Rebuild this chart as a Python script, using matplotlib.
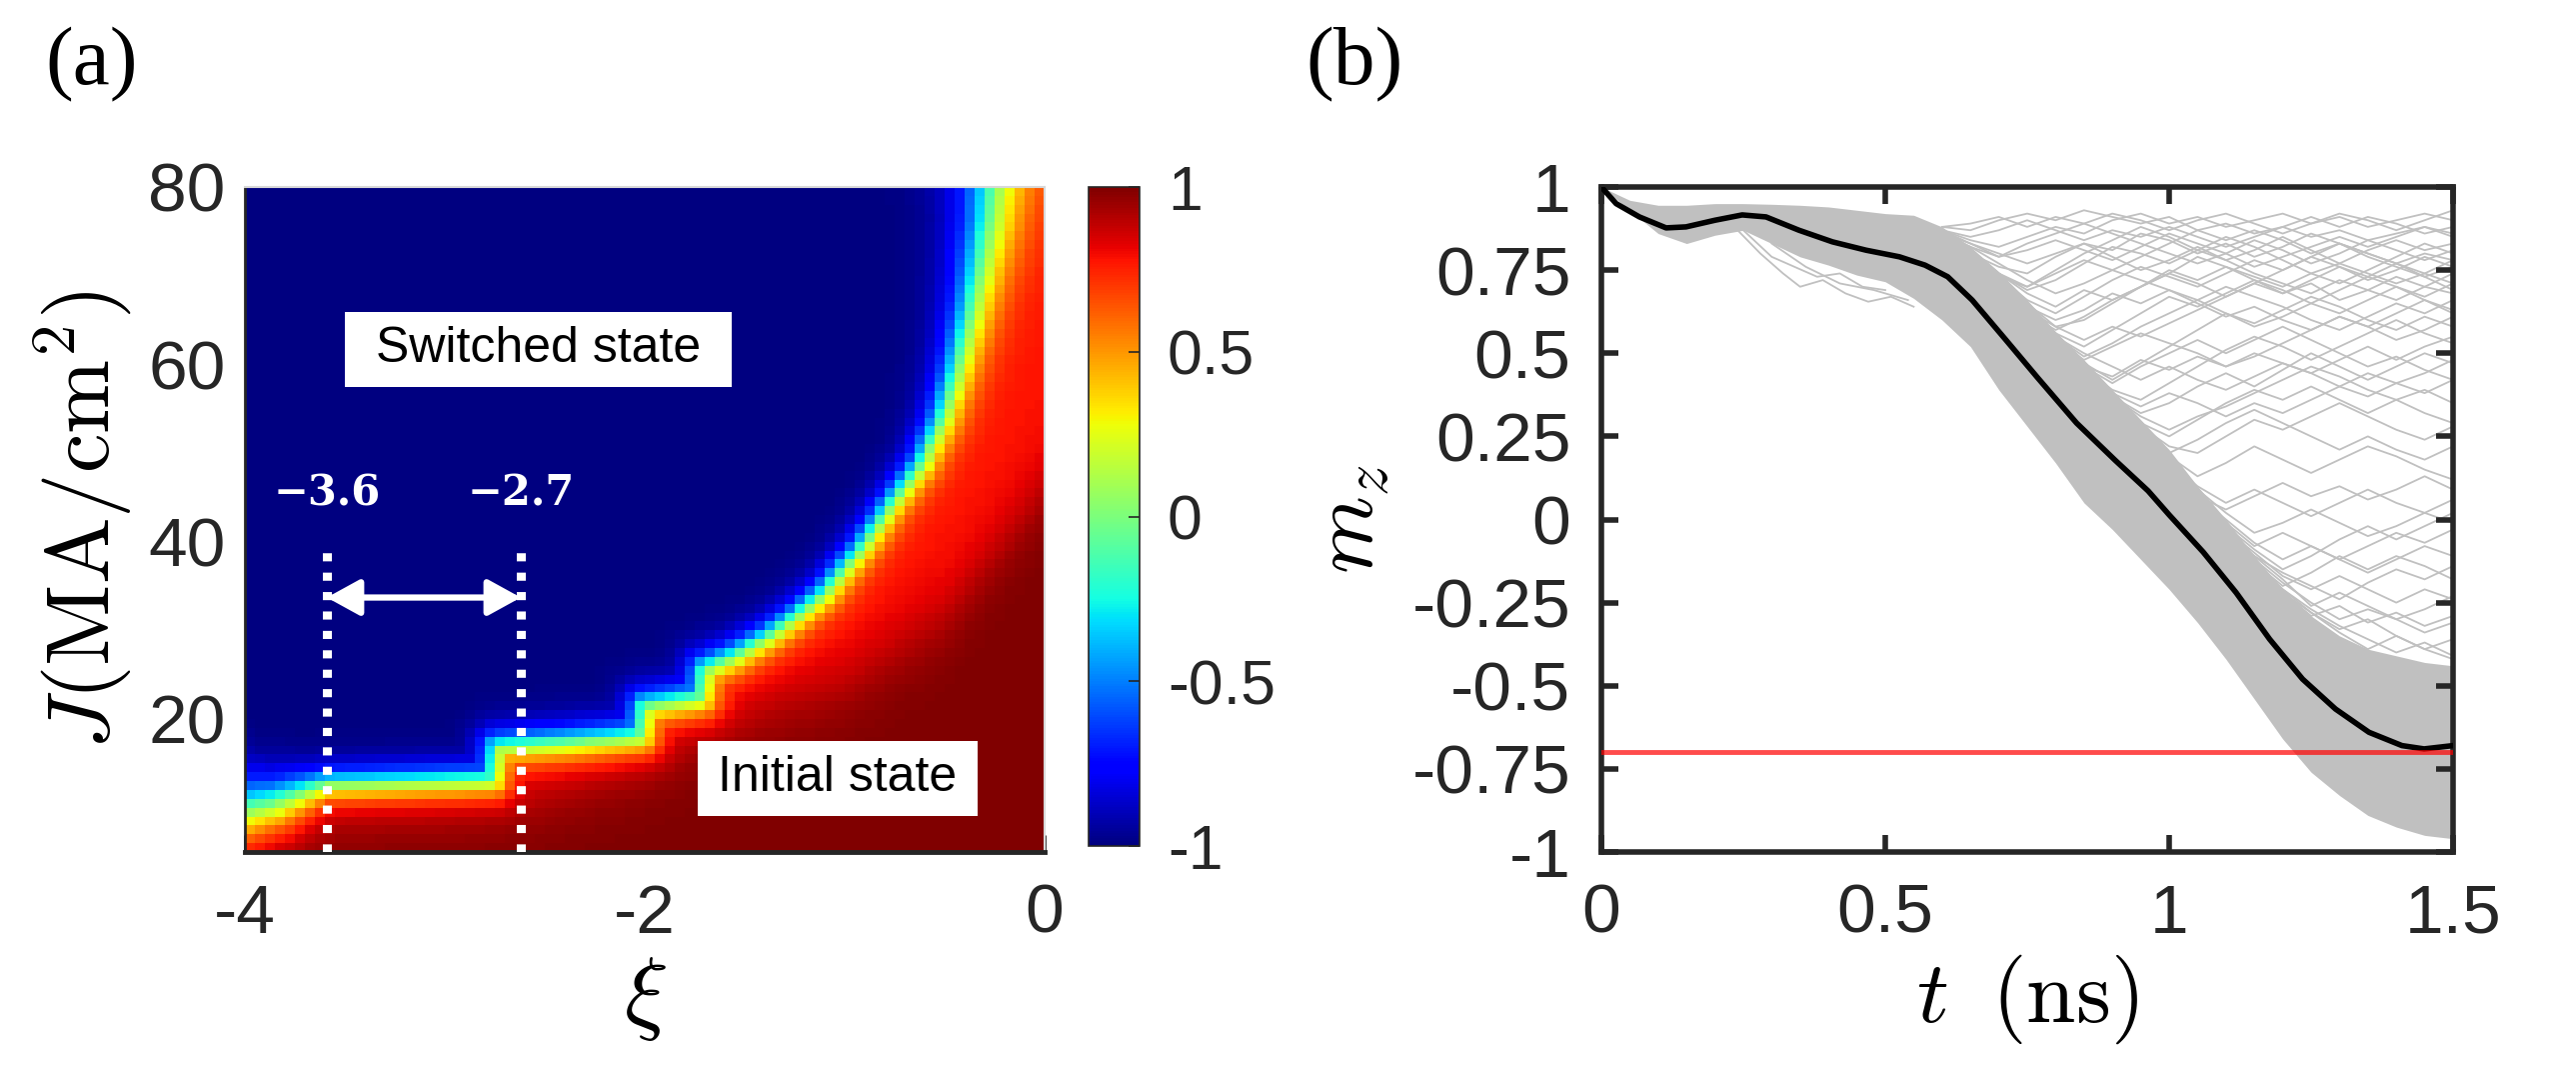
import numpy as np
import matplotlib
matplotlib.use("Agg")
import matplotlib.pyplot as plt
from matplotlib.patches import Rectangle, FancyArrowPatch

plt.rcParams['font.family'] = ['Liberation Sans', 'DejaVu Sans']
plt.rcParams['mathtext.fontset'] = 'cm'
plt.rcParams['axes.unicode_minus'] = False

DARK = '#262626'

# ---------------- panel (a) data: switching map ----------------
xi_edges = np.linspace(-4, 0, 81)
J_edges = np.linspace(5, 80, 76)

# boundary between switched (-1) and initial (+1) state
bnd_xi = [-4.0, -3.85, -3.7, -3.6, -3.2, -2.76, -2.74, -2.4, -2.02, -2.0, -1.72, -1.70,
          -1.55, -1.38, -1.24, -1.10, -0.92, -0.77, -0.61, -0.51, -0.44, -0.36, -0.27,
          -0.25, -0.20, -0.10, 0.0]
bnd_J = [9.8, 10.5, 11.8, 12.6, 12.8, 13.0, 16.8, 17.3, 18.0, 21.4, 22.3, 25.5,
         27.0, 29.2, 31.5, 34.1, 39.0, 43.9, 48.8, 53.7, 58.7, 66.0, 75.9,
         79.8, 90.0, 105.0, 120.0]
# transition half width along the boundary (pixels)
bnd_w = [38, 32, 24, 19, 19, 19, 20, 21, 21, 21, 21, 21,
         20, 19, 19, 19, 19, 19, 20, 22, 24, 28, 36,
         40, 42, 44, 45]
# where red turns into dark red
dark_xi = [-4.0, -3.5, -3.0, -2.5, -2.0, -1.725, -1.0, -0.5, 0.0]
dark_J = [8.5, 10.0, 10.5, 12.0, 16.0, 18.9, 24.0, 31.6, 46.0]

cbar_ticks = [-1, -0.5, 0, 0.5, 1]
cbar_labels = ['-1', '-0.5', '0', '0.5', '1']
xi_mark = [-3.59, -2.62]
xi_mark_labels = ['\u22123.6', '\u22122.7']

# ---------------- panel (b) data: m_z trajectories ----------------
mean_t = [0, 0.026, 0.067, 0.114, 0.149, 0.2, 0.248, 0.29, 0.348, 0.407, 0.466, 0.525,
          0.57, 0.61, 0.653, 0.711, 0.769, 0.837, 0.905, 0.963, 1.0, 1.06, 1.118,
          1.177, 1.235, 1.293, 1.352, 1.41, 1.449, 1.5]
mean_m = [1.0, 0.95, 0.91, 0.877, 0.88, 0.90, 0.916, 0.91, 0.87, 0.835, 0.81, 0.79,
          0.765, 0.73, 0.66, 0.543, 0.425, 0.29, 0.178, 0.086, 0.014, -0.098, -0.22,
          -0.36, -0.48, -0.57, -0.64, -0.68, -0.69, -0.68]

band_t = [0, 0.05, 0.1, 0.15, 0.2, 0.25, 0.3, 0.35, 0.4, 0.45, 0.5, 0.55, 0.6, 0.65, 0.7,
          0.75, 0.8, 0.85, 0.9, 0.95, 1.0, 1.05, 1.1, 1.15, 1.2, 1.25, 1.3, 1.35, 1.4,
          1.45, 1.5]
band_hi = [1.0, 0.96, 0.945, 0.945, 0.95, 0.95, 0.948, 0.945, 0.94, 0.93, 0.92, 0.915,
           0.88, 0.82, 0.745, 0.66, 0.565, 0.48, 0.39, 0.30, 0.21, 0.10, 0.0, -0.11,
           -0.21, -0.29, -0.35, -0.39, -0.41, -0.43, -0.44]
band_lo = [1.0, 0.93, 0.86, 0.83, 0.855, 0.87, 0.83, 0.79, 0.765, 0.735, 0.715, 0.665,
           0.60, 0.52, 0.39, 0.28, 0.17, 0.05, -0.03, -0.12, -0.21, -0.31, -0.42, -0.54,
           -0.66, -0.76, -0.83, -0.89, -0.925, -0.95, -0.96]

# early strands dropping below the band
low_t1 = [0.24, 0.28, 0.32, 0.35, 0.39, 0.43, 0.47, 0.51, 0.55]
low_m1 = [0.87, 0.80, 0.74, 0.70, 0.72, 0.68, 0.655, 0.67, 0.64]
low_t2 = [0.25, 0.30, 0.34, 0.38, 0.42, 0.46, 0.50]
low_m2 = [0.87, 0.79, 0.76, 0.73, 0.74, 0.70, 0.69]
low_t3 = [0.30, 0.36, 0.42, 0.48, 0.54]
low_m3 = [0.83, 0.76, 0.71, 0.69, 0.66]

# trajectories that leave the band (sampled every 0.05 ns from 0.6 ns)
esc_t = [0.60, 0.65, 0.70, 0.75, 0.80, 0.85, 0.90, 0.95, 1.00, 1.05, 1.10, 1.15, 1.20,
         1.25, 1.30, 1.35, 1.40, 1.45, 1.50]
paths_high = [
    [0.88, 0.87, 0.90, 0.92, 0.90, 0.93, 0.91, 0.89, 0.91, 0.87, 0.89, 0.86, 0.88, 0.85, 0.87, 0.84, 0.86, 0.88, 0.86],
    [0.87, 0.84, 0.82, 0.85, 0.88, 0.86, 0.90, 0.92, 0.89, 0.91, 0.88, 0.90, 0.92, 0.89, 0.91, 0.88, 0.90, 0.92, 0.90],
    [0.86, 0.80, 0.76, 0.74, 0.79, 0.83, 0.81, 0.86, 0.84, 0.80, 0.83, 0.79, 0.82, 0.86, 0.83, 0.80, 0.77, 0.80, 0.78],
    [0.86, 0.81, 0.74, 0.69, 0.72, 0.77, 0.82, 0.80, 0.77, 0.81, 0.85, 0.82, 0.78, 0.74, 0.77, 0.81, 0.84, 0.81, 0.83],
    [0.85, 0.80, 0.73, 0.66, 0.62, 0.67, 0.72, 0.76, 0.73, 0.70, 0.74, 0.78, 0.75, 0.79, 0.76, 0.72, 0.75, 0.79, 0.76],
    [0.85, 0.79, 0.72, 0.65, 0.58, 0.60, 0.65, 0.70, 0.74, 0.79, 0.76, 0.72, 0.68, 0.71, 0.66, 0.69, 0.73, 0.70, 0.74],
    [0.84, 0.79, 0.71, 0.63, 0.56, 0.52, 0.57, 0.62, 0.67, 0.64, 0.68, 0.72, 0.69, 0.65, 0.62, 0.66, 0.70, 0.67, 0.71],
    [0.84, 0.78, 0.70, 0.62, 0.55, 0.49, 0.53, 0.58, 0.62, 0.66, 0.62, 0.58, 0.61, 0.65, 0.69, 0.73, 0.70, 0.66, 0.63],
    [0.87, 0.83, 0.79, 0.81, 0.84, 0.81, 0.78, 0.82, 0.86, 0.83, 0.80, 0.84, 0.81, 0.77, 0.80, 0.84, 0.81, 0.78, 0.81],
    [0.86, 0.82, 0.77, 0.72, 0.68, 0.71, 0.75, 0.72, 0.69, 0.65, 0.61, 0.64, 0.60, 0.57, 0.61, 0.58, 0.62, 0.66, 0.62],
    [0.88, 0.89, 0.91, 0.88, 0.91, 0.89, 0.92, 0.90, 0.87, 0.90, 0.92, 0.89, 0.86, 0.89, 0.92, 0.90, 0.87, 0.90, 0.93],
    [0.87, 0.85, 0.87, 0.90, 0.87, 0.84, 0.87, 0.85, 0.88, 0.85, 0.82, 0.85, 0.88, 0.91, 0.88, 0.91, 0.89, 0.86, 0.88],
    [0.86, 0.82, 0.79, 0.83, 0.86, 0.89, 0.86, 0.83, 0.80, 0.77, 0.80, 0.76, 0.79, 0.82, 0.85, 0.82, 0.85, 0.88, 0.85],
    [0.85, 0.79, 0.73, 0.70, 0.74, 0.78, 0.75, 0.79, 0.83, 0.87, 0.84, 0.87, 0.84, 0.80, 0.83, 0.79, 0.76, 0.73, 0.76],
    [0.85, 0.80, 0.74, 0.68, 0.64, 0.69, 0.66, 0.70, 0.75, 0.72, 0.76, 0.73, 0.70, 0.74, 0.71, 0.75, 0.79, 0.83, 0.80],
    [0.84, 0.78, 0.71, 0.64, 0.60, 0.63, 0.68, 0.65, 0.69, 0.66, 0.70, 0.67, 0.64, 0.60, 0.57, 0.61, 0.65, 0.62, 0.66],
    [0.84, 0.78, 0.70, 0.62, 0.57, 0.61, 0.66, 0.70, 0.74, 0.71, 0.67, 0.71, 0.75, 0.79, 0.83, 0.80, 0.77, 0.73, 0.69],
    [0.85, 0.80, 0.74, 0.70, 0.75, 0.80, 0.84, 0.88, 0.85, 0.81, 0.78, 0.74, 0.71, 0.68, 0.72, 0.69, 0.66, 0.70, 0.68],
    [0.84, 0.78, 0.71, 0.63, 0.58, 0.54, 0.58, 0.55, 0.59, 0.63, 0.67, 0.71, 0.68, 0.72, 0.76, 0.73, 0.77, 0.74, 0.78],
    [0.86, 0.83, 0.80, 0.77, 0.80, 0.83, 0.79, 0.75, 0.78, 0.82, 0.78, 0.81, 0.85, 0.81, 0.77, 0.74, 0.71, 0.74, 0.71],
]
paths_mid = [
    [0.84, 0.78, 0.70, 0.62, 0.54, 0.47, 0.42, 0.47, 0.52, 0.57, 0.62, 0.59, 0.63, 0.67, 0.64, 0.60, 0.57, 0.61, 0.58],
    [0.83, 0.77, 0.69, 0.61, 0.53, 0.45, 0.39, 0.36, 0.41, 0.46, 0.51, 0.55, 0.52, 0.48, 0.52, 0.56, 0.60, 0.56, 0.53],
    [0.83, 0.77, 0.69, 0.60, 0.52, 0.44, 0.37, 0.32, 0.35, 0.40, 0.44, 0.40, 0.45, 0.50, 0.46, 0.42, 0.46, 0.50, 0.47],
    [0.82, 0.76, 0.68, 0.60, 0.51, 0.43, 0.36, 0.29, 0.25, 0.30, 0.35, 0.39, 0.36, 0.40, 0.36, 0.32, 0.36, 0.39, 0.35],
    [0.82, 0.76, 0.67, 0.59, 0.50, 0.42, 0.35, 0.28, 0.22, 0.20, 0.25, 0.30, 0.27, 0.31, 0.35, 0.31, 0.27, 0.24, 0.28],
    [0.83, 0.77, 0.69, 0.61, 0.53, 0.46, 0.41, 0.46, 0.50, 0.54, 0.50, 0.54, 0.58, 0.54, 0.50, 0.46, 0.49, 0.45, 0.42],
    [0.83, 0.77, 0.70, 0.62, 0.55, 0.50, 0.46, 0.42, 0.46, 0.42, 0.39, 0.43, 0.47, 0.44, 0.48, 0.52, 0.48, 0.52, 0.55],
    [0.83, 0.77, 0.69, 0.61, 0.53, 0.46, 0.43, 0.48, 0.45, 0.49, 0.46, 0.50, 0.47, 0.44, 0.40, 0.37, 0.41, 0.38, 0.42],
    [0.83, 0.77, 0.69, 0.61, 0.53, 0.45, 0.38, 0.34, 0.38, 0.35, 0.31, 0.35, 0.32, 0.36, 0.40, 0.44, 0.41, 0.44, 0.48],
    [0.83, 0.76, 0.68, 0.60, 0.52, 0.44, 0.37, 0.31, 0.27, 0.31, 0.34, 0.38, 0.42, 0.46, 0.43, 0.39, 0.36, 0.32, 0.29],
    [0.84, 0.78, 0.70, 0.62, 0.54, 0.48, 0.52, 0.56, 0.53, 0.50, 0.46, 0.49, 0.53, 0.57, 0.61, 0.58, 0.54, 0.57, 0.61],
]
paths_low = [
    [0.82, 0.75, 0.67, 0.58, 0.49, 0.41, 0.33, 0.26, 0.19, 0.13, 0.17, 0.22, 0.18, 0.14, 0.18, 0.22, 0.19, 0.15, 0.12],
    [0.81, 0.75, 0.66, 0.58, 0.49, 0.40, 0.32, 0.25, 0.17, 0.10, 0.05, 0.09, 0.05, 0.01, 0.05, 0.09, 0.05, 0.02, 0.06],
    [0.81, 0.74, 0.66, 0.57, 0.48, 0.40, 0.31, 0.24, 0.16, 0.09, 0.02, -0.04, -0.01, 0.03, -0.01, -0.05, -0.02, 0.02, -0.01],
    [0.82, 0.75, 0.67, 0.58, 0.50, 0.41, 0.33, 0.26, 0.20, 0.24, 0.29, 0.33, 0.29, 0.25, 0.21, 0.25, 0.21, 0.18, 0.22],
    [0.81, 0.74, 0.65, 0.56, 0.47, 0.39, 0.30, 0.23, 0.15, 0.07, 0.00, -0.07, -0.12, -0.08, -0.12, -0.16, -0.12, -0.08, -0.11],
    [0.80, 0.73, 0.64, 0.55, 0.46, 0.37, 0.29, 0.21, 0.13, 0.05, -0.03, -0.10, -0.17, -0.21, -0.17, -0.21, -0.25, -0.21, -0.24],
    [0.80, 0.73, 0.64, 0.55, 0.46, 0.37, 0.28, 0.20, 0.12, 0.04, -0.04, -0.12, -0.19, -0.25, -0.30, -0.27, -0.30, -0.34, -0.31],
    [0.81, 0.74, 0.65, 0.56, 0.47, 0.38, 0.30, 0.22, 0.14, 0.06, -0.01, -0.08, -0.04, -0.08, -0.12, -0.08, -0.04, -0.07, -0.03],
    [0.80, 0.72, 0.63, 0.54, 0.45, 0.36, 0.27, 0.19, 0.11, 0.02, -0.06, -0.14, -0.22, -0.28, -0.33, -0.30, -0.35, -0.39, -0.36],
    [0.80, 0.72, 0.63, 0.54, 0.45, 0.36, 0.27, 0.19, 0.11, 0.03, -0.05, -0.13, -0.20, -0.16, -0.11, -0.15, -0.11, -0.14, -0.18],
    [0.81, 0.73, 0.64, 0.55, 0.46, 0.38, 0.29, 0.21, 0.13, 0.05, -0.03, -0.11, -0.18, -0.26, -0.22, -0.26, -0.30, -0.27, -0.23],
    [0.81, 0.74, 0.65, 0.56, 0.47, 0.38, 0.30, 0.22, 0.14, 0.07, 0.03, 0.07, 0.11, 0.07, 0.10, 0.06, 0.09, 0.13, 0.09],
    [0.80, 0.73, 0.64, 0.55, 0.46, 0.37, 0.29, 0.21, 0.13, 0.05, -0.02, -0.09, -0.15, -0.11, -0.06, -0.02, -0.06, -0.02, 0.02],
    [0.80, 0.72, 0.63, 0.54, 0.45, 0.36, 0.27, 0.19, 0.11, 0.03, -0.05, -0.13, -0.21, -0.28, -0.34, -0.39, -0.35, -0.39, -0.42],
    [0.80, 0.72, 0.63, 0.54, 0.45, 0.36, 0.27, 0.19, 0.10, 0.02, -0.06, -0.14, -0.22, -0.29, -0.26, -0.31, -0.28, -0.32, -0.29],
    [0.81, 0.73, 0.64, 0.55, 0.46, 0.37, 0.28, 0.20, 0.12, 0.04, -0.04, -0.11, -0.16, -0.20, -0.24, -0.19, -0.15, -0.18, -0.14],
    [0.80, 0.72, 0.63, 0.54, 0.45, 0.36, 0.27, 0.19, 0.11, 0.03, -0.05, -0.13, -0.21, -0.27, -0.32, -0.36, -0.40, -0.37, -0.41],
]
m_target = -0.7
yticks_b = [-1, -0.75, -0.5, -0.25, 0, 0.25, 0.5, 0.75, 1]
yticklabels_b = ['-1', '-0.75', '-0.5', '-0.25', '0', '0.25', '0.5', '0.75', '1']
xticks_b = [0, 0.5, 1, 1.5]
xticklabels_b = ['0', '0.5', '1', '1.5']

# ---------------- build the map from the read boundary ----------------
W, H = 2577, 1085
XI_PX = 800 / 4.0
J_PX = 665 / 75.0
xi_c = 0.5 * (xi_edges[1:] + xi_edges[:-1])
J_c = 0.5 * (J_edges[1:] + J_edges[:-1])
XX, JJ = np.meshgrid(xi_c, J_c)

nodes = np.column_stack([(np.array(bnd_xi) + 4) * XI_PX, (np.array(bnd_J) - 5) * J_PX])
curve, wcurve = [], []
for k in range(len(nodes) - 1):
    n = int(np.hypot(*(nodes[k + 1] - nodes[k])) // 2) + 2
    curve.append(np.linspace(nodes[k], nodes[k + 1], n))
    wcurve.append(np.linspace(bnd_w[k], bnd_w[k + 1], n))
curve = np.vstack(curve)
wcurve = np.concatenate(wcurve)

px = ((XX + 4) * XI_PX).ravel()
py = ((JJ - 5) * J_PX).ravel()
dist = np.hypot(px[:, None] - curve[None, :, 0], py[:, None] - curve[None, :, 1])
idx = dist.argmin(axis=1)
dmin = dist[np.arange(len(px)), idx].reshape(XX.shape)
wloc = wcurve[idx].reshape(XX.shape)
side = np.where(JJ < np.interp(XX, bnd_xi, bnd_J), 1.0, -1.0)
mz_map = np.tanh(side * dmin / wloc)
level = 0.78 + 0.22 / (1 + np.exp(-(np.interp(XX, dark_xi, dark_J) - JJ) / 2.5))
mz_map = np.where(mz_map > 0, mz_map * level, mz_map)

# ---------------- figure ----------------
fig = plt.figure(figsize=(W / 100, H / 100), dpi=100)

ax1 = fig.add_axes([245 / W, 1 - 852 / H, 800 / W, 665 / H])
ax1.set_axisbelow(True)
mesh = ax1.pcolormesh(xi_edges, J_edges, mz_map, cmap='jet', vmin=-1, vmax=1,
                      shading='flat', zorder=1)
ax1.set_xlim(-4, 0)
ax1.set_ylim(5, 80)
ax1.set_xticks([-4, -2, 0])
ax1.set_xticklabels(['-4', '-2', '0'])
ax1.set_yticks([20, 40, 60, 80])
ax1.tick_params(direction='in', length=12, width=2, colors=DARK, labelsize=50)
ax1.tick_params(axis='x', pad=22)
ax1.tick_params(axis='y', pad=14)
for s in ['top', 'right']:
    ax1.spines[s].set_color('#d8d8d8')
    ax1.spines[s].set_linewidth(1.5)
ax1.spines['left'].set_color(DARK)
ax1.spines['left'].set_linewidth(2)
ax1.spines['bottom'].set_color(DARK)
ax1.spines['bottom'].set_linewidth(3.5)
ax1.set_xlabel(r'$\xi$', fontsize=66, labelpad=6)
ax1.set_ylabel(r'$J(\mathrm{MA/cm^2})$', fontsize=64, labelpad=10)

# dotted markers and arrow
for xv, lab in zip(xi_mark, xi_mark_labels):
    ax1.plot([xv, xv], [5, 39.5], color='white', lw=6.5, ls=(0, (0.9, 1.25)),
             solid_capstyle='butt', dash_capstyle='butt', zorder=3)
    ax1.text(xv, 45.4, lab, color='white', fontsize=30, fontweight='bold',
             family='DejaVu Serif', ha='center', va='center', zorder=4)
ax1.add_patch(FancyArrowPatch((xi_mark[0], 33.7), (xi_mark[1], 33.7),
                              arrowstyle='<|-|>,head_length=1.0,head_width=0.55',
                              mutation_scale=20, color='white', lw=4.5,
                              shrinkA=0, shrinkB=0, zorder=4))

# text boxes
ax1.add_patch(Rectangle((-3.5, 57.5), 1.935, 8.4, facecolor='white', edgecolor='none', zorder=4))
ax1.text(-3.5 + 1.935 / 2, 61.7, 'Switched state', fontsize=36, ha='center', va='center', zorder=5)
ax1.add_patch(Rectangle((-1.735, 9.1), 1.40, 8.4, facecolor='white', edgecolor='none', zorder=4))
ax1.text(-1.735 + 0.70, 13.3, 'Initial state', fontsize=36, ha='center', va='center', zorder=5)

# colorbar
cax = fig.add_axes([1089 / W, 1 - 846 / H, 51 / W, 659 / H])
cb = fig.colorbar(mesh, cax=cax, ticks=cbar_ticks)
cb.ax.set_yticklabels(cbar_labels)
cb.outline.set_linewidth(1.2)
cb.outline.set_edgecolor(DARK)
cb.ax.tick_params(direction='in', length=8, width=1.2, colors=DARK, labelsize=45, pad=20)

# ---------------- panel (b) ----------------
ax2 = fig.add_axes([1602 / W, 1 - 852 / H, 852 / W, 665 / H])
gray = '#c0c0c0'
ax2.fill_between(band_t, band_lo, band_hi, color=gray, lw=0, zorder=1)
for tt, mm in [(low_t1, low_m1), (low_t2, low_m2), (low_t3, low_m3)]:
    ax2.plot(tt, mm, color=gray, lw=1.3, zorder=1)
for grp in (paths_high, paths_mid, paths_low):
    for mm in grp:
        ax2.plot(esc_t, mm, color=gray, lw=1.3, zorder=1)
ax2.plot(mean_t, mean_m, color='black', lw=4, zorder=3)
ax2.axhline(m_target, color='red', lw=3.5, alpha=0.7, zorder=4)
ax2.set_xlim(0, 1.5)
ax2.set_ylim(-1, 1)
ax2.set_xticks(xticks_b)
ax2.set_xticklabels(xticklabels_b)
ax2.set_yticks(yticks_b)
ax2.set_yticklabels(yticklabels_b)
ax2.tick_params(direction='in', length=12, width=4, colors=DARK, labelsize=50,
                top=True, right=True)
ax2.tick_params(axis='x', pad=22)
ax2.tick_params(axis='y', pad=22)
for s in ax2.spines.values():
    s.set_linewidth(4)
    s.set_color(DARK)
ax2.set_xlabel(r'$t\;\;(\mathrm{ns})$', fontsize=64, labelpad=4)
ax2.set_ylabel(r'$m_z$', fontsize=64, labelpad=14)

fig.text(92 / W, 1 - 65 / H, '(a)', family='Liberation Serif', fontsize=60, ha='center', va='center')
fig.text(1355 / W, 1 - 65 / H, '(b)', family='Liberation Serif', fontsize=60, ha='center', va='center')

fig.savefig('out.png', dpi=100)
